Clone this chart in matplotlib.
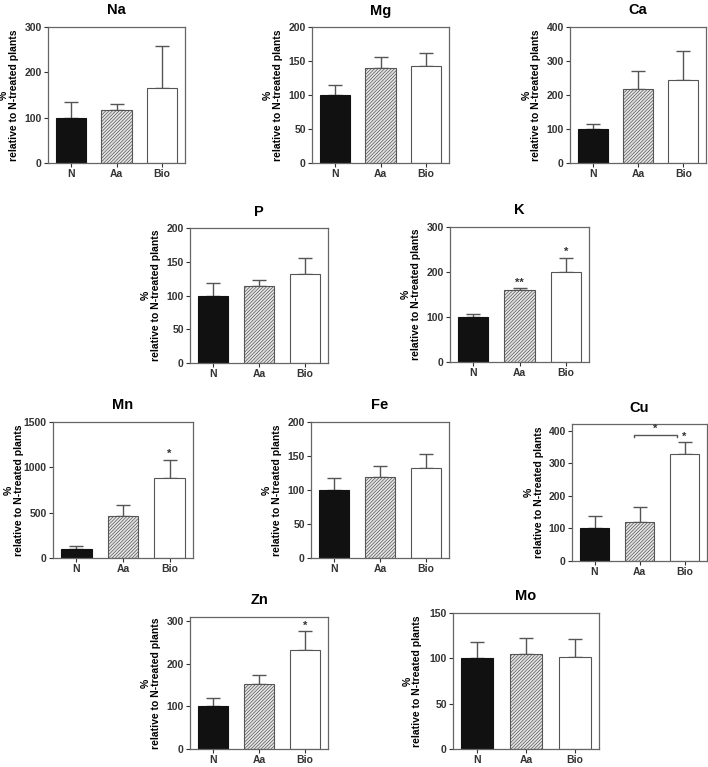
import numpy as np
from matplotlib import pyplot as plt

plt.rcParams['font.family'] = ['Liberation Sans', 'DejaVu Sans']
plt.rcParams['font.weight'] = 'bold'
plt.rcParams['hatch.linewidth'] = 0.5

elements = ['Na', 'Mg', 'Ca', 'P', 'K', 'Mn', 'Fe', 'Cu', 'Zn', 'Mo']
groups = ['N', 'Aa', 'Bio']

mean_N = [100, 100, 100, 100, 100, 100, 100, 100, 100, 100]
err_N = [35, 14, 16, 19, 6, 30, 17, 38, 20, 18]
mean_Aa = [118, 140, 217, 114, 160, 460, 119, 120, 152, 105]
err_Aa = [13, 16, 55, 9, 5, 128, 17, 45, 22, 17]
mean_Bio = [165, 143, 245, 132, 200, 886, 133, 328, 233, 102]
err_Bio = [93, 19, 85, 23, 32, 199, 20, 36, 43, 19]

star_Aa = ['', '', '', '', '**', '', '', '', '', '']
star_Bio = ['', '', '', '', '*', '*', '', '*', '*', '']

ytop = [300, 200, 400, 200, 300, 1500, 200, 420, 310, 150]
ytickmax = [300, 200, 400, 200, 300, 1500, 200, 400, 300, 150]
ystep = [100, 50, 100, 50, 100, 500, 50, 100, 100, 50]

# Cu: bracket between Aa and Bio
cu_bracket = (0.88, 1.83, 386)

# panel boxes in pixels: left, top, right, bottom
boxes = [(48, 27, 185, 163), (312, 27, 449, 163), (570, 27, 706, 163),
         (190, 228, 328, 363), (450, 227, 589, 362),
         (53, 422, 193, 558), (311, 422, 449, 558), (572, 424, 707, 561),
         (190, 617, 328, 749), (453, 613, 599, 749)]

W, H = 708, 767
fig = plt.figure(figsize=(W/100, H/100), dpi=100)

x = np.arange(3)
for i, el in enumerate(elements):
    l, t, r, b = boxes[i]
    ax = fig.add_axes([l/W, 1-b/H, (r-l)/W, (b-t)/H])
    means = [mean_N[i], mean_Aa[i], mean_Bio[i]]
    errs = [err_N[i], err_Aa[i], err_Bio[i]]
    ax.errorbar(x, means, yerr=[[0, 0, 0], errs], fmt='none', ecolor='#555',
                elinewidth=1.0, capsize=5, capthick=1.0, zorder=1)
    ax.bar(x[0], means[0], width=0.66, color='#111', edgecolor='#111', lw=0.8, zorder=2)
    ax.bar(x[1], means[1], width=0.66, color='#e6e6e6', edgecolor='#555', lw=0.8,
           hatch='//////////', zorder=2)
    ax.bar(x[2], means[2], width=0.66, color='white', edgecolor='#555', lw=0.8, zorder=2)

    off = ytop[i] * 0.04
    if star_Aa[i]:
        ax.text(x[1], means[1]+errs[1]+off, star_Aa[i], ha='center', va='center',
                fontsize=8, color='#333')
    if star_Bio[i]:
        ax.text(x[2], means[2]+errs[2]+off, star_Bio[i], ha='center', va='center',
                fontsize=8, color='#333')
    if el == 'Cu':
        x1, x2, yb = cu_bracket
        ax.plot([x1, x1, x2, x2], [yb-7, yb, yb, yb-7], color='#555', lw=1)
        ax.text((x1+x2)/2, yb+20, '*', ha='center', va='center', fontsize=8, color='#333')

    ax.set_xlim(-0.5, 2.5)
    ax.set_ylim(0, ytop[i])
    ax.set_xticks(x)
    ax.set_xticklabels(groups, fontsize=8, fontweight='bold')
    ax.set_yticks(np.arange(0, ytickmax[i]+1, ystep[i]))
    ax.tick_params(axis='both', labelsize=7.5, length=3, width=0.8, colors='#333',
                   direction='out', pad=1.5)
    for s in ax.spines.values():
        s.set_color('#666')
        s.set_linewidth(0.9)
    ax.set_title(el, fontsize=10.5, fontweight='bold', pad=9)
    ax.set_ylabel('%\nrelative to N-treated plants', fontsize=7.5, fontweight='bold',
                  linespacing=1.0)
    ax.yaxis.set_label_coords(-0.21, 0.5)

plt.savefig('out.png', dpi=100)
